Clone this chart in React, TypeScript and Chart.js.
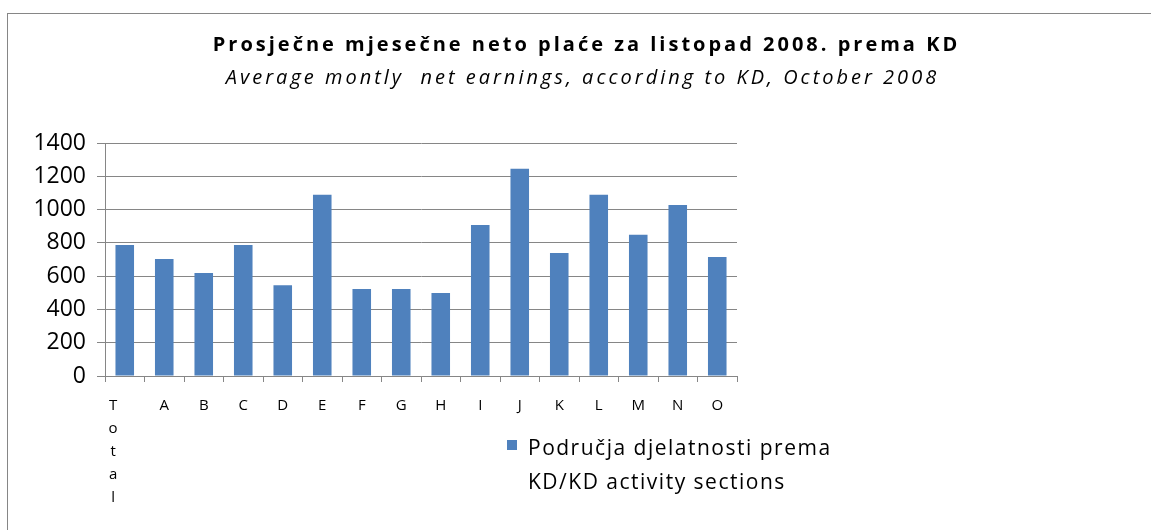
import React, { useEffect, useRef } from 'react';
import { Chart, registerables } from 'chart.js';

Chart.register(...registerables);

const titleText = 'Prosječne mjesečne neto plaće za listopad 2008. prema KD';
const subtitleText = 'Average montly  net earnings, according to KD, October 2008';
const seriesName = ['Područja djelatnosti prema', 'KD/KD activity sections'];

const categories = ['Total', 'A', 'B', 'C', 'D', 'E', 'F', 'G', 'H', 'I', 'J', 'K', 'L', 'M', 'N', 'O'];
const values = [787, 703, 619, 787, 546, 1089, 522, 522, 498, 908, 1245, 739, 1089, 848, 1028, 715];
const yTicks = [0, 200, 400, 600, 800, 1000, 1200, 1400];

const BAR_COLOR = '#4F81BD';
const LINE_COLOR = '#868686';
const FONT = "'Open Sans', 'DejaVu Sans', sans-serif";

export default function App() {
  const ref = useRef<HTMLCanvasElement | null>(null);

  useEffect(() => {
    if (!ref.current) return;
    // Long labels wrap letter by letter (as in the original), shifted left a bit
    const labels = categories.map((c) =>
      c.length > 1 ? c.split('').map((ch) => ch + '      ') : c
    );
    const chart = new Chart(ref.current, {
      type: 'bar',
      data: {
        labels,
        datasets: [
          {
            label: seriesName.join(' '),
            data: values,
            backgroundColor: BAR_COLOR,
            borderWidth: 0,
            categoryPercentage: 1,
            barPercentage: 0.47,
          },
        ],
      },
      options: {
        responsive: false,
        maintainAspectRatio: false,
        animation: false,
        layout: { padding: { left: 0, top: 143, right: 414, bottom: 0 } },
        plugins: {
          legend: { display: false },
          title: { display: false },
          tooltip: { enabled: false },
        },
        scales: {
          x: {
            grid: {
              display: true,
              drawOnChartArea: false,
              offset: true,
              tickLength: 6,
              color: LINE_COLOR,
            },
            border: { color: LINE_COLOR },
            ticks: {
              color: '#000',
              font: { family: FONT, size: 15, lineHeight: 1.53 },
              padding: 12,
              maxRotation: 0,
              minRotation: 0,
              autoSkip: false,
            },
            afterFit: (s: any) => {
              s.height = 154;
            },
          },
          y: {
            min: yTicks[0],
            max: yTicks[yTicks.length - 1],
            afterBuildTicks: (s: any) => {
              s.ticks = yTicks.map((v) => ({ value: v }));
            },
            grid: { color: LINE_COLOR, tickLength: 8 },
            border: { color: LINE_COLOR },
            ticks: {
              color: '#000',
              font: { family: FONT, size: 23 },
              padding: 11,
              callback: (v: any) => String(v),
            },
            afterFit: (s: any) => {
              s.width = 105;
            },
          },
        },
      },
    });
    return () => chart.destroy();
  }, []);

  return (
    <div
      style={{
        position: 'fixed',
        left: 0,
        top: 0,
        width: 1151,
        height: 530,
        overflow: 'hidden',
        background: '#fff',
        fontFamily: FONT,
      }}
    >
      <div
        style={{
          position: 'absolute',
          left: 7,
          top: 13,
          width: 1300,
          height: 700,
          border: `1px solid ${LINE_COLOR}`,
        }}
      />
      <canvas ref={ref} width={1151} height={530} style={{ position: 'absolute', left: 0, top: 0 }} />
      <div
        style={{
          position: 'absolute',
          left: 0,
          width: 1173,
          top: 31,
          textAlign: 'center',
          fontWeight: 700,
          fontSize: 20,
          lineHeight: '26px',
          letterSpacing: '3px',
          color: '#000',
          whiteSpace: 'pre',
        }}
      >
        {titleText}
      </div>
      <div
        style={{
          position: 'absolute',
          left: 0,
          width: 1165,
          top: 64,
          textAlign: 'center',
          fontStyle: 'italic',
          fontSize: 20,
          lineHeight: '26px',
          letterSpacing: '3px',
          color: '#000',
          whiteSpace: 'pre',
        }}
      >
        {subtitleText}
      </div>
      <div style={{ position: 'absolute', left: 507, top: 440, width: 10, height: 10, background: BAR_COLOR }} />
      <div
        style={{
          position: 'absolute',
          left: 528,
          top: 430,
          fontSize: 21,
          lineHeight: '34px',
          letterSpacing: '1.5px',
          color: '#000',
          whiteSpace: 'pre',
        }}
      >
        {seriesName[0]}
        {'\n'}
        {seriesName[1]}
      </div>
    </div>
  );
}
